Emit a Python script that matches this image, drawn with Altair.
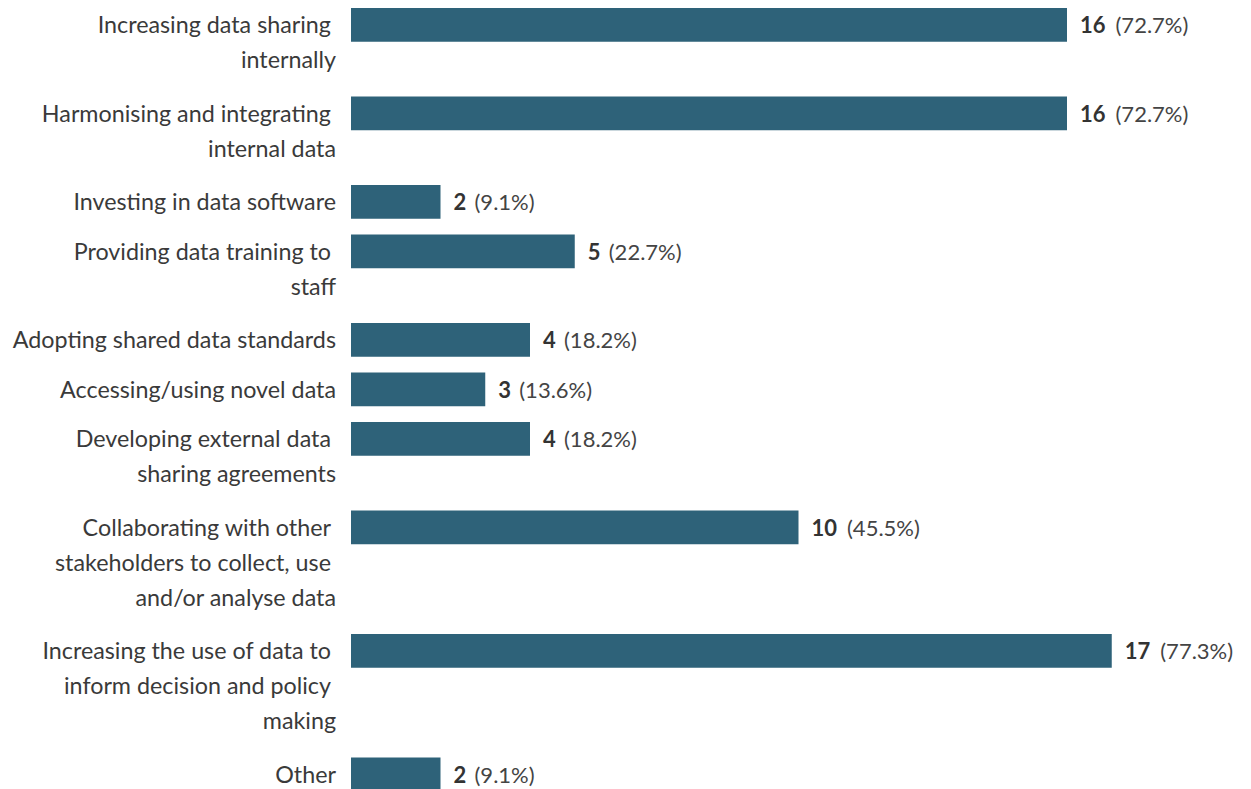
import altair as alt
import pandas as pd

# ---- data ----
label_lines = [
    ["Increasing data sharing", "internally"],
    ["Harmonising and integrating", "internal data"],
    ["Investing in data software"],
    ["Providing data training to", "staff"],
    ["Adopting shared data standards"],
    ["Accessing/using novel data"],
    ["Developing external data", "sharing agreements"],
    ["Collaborating with other", "stakeholders to collect, use", "and/or analyse data"],
    ["Increasing the use of data to", "inform decision and policy", "making"],
    ["Other"],
]
counts = [16, 16, 2, 5, 4, 3, 4, 10, 17, 2]
percents = [72.7, 72.7, 9.1, 22.7, 18.2, 13.6, 18.2, 45.5, 77.3, 9.1]

# ---- layout (row height depends on number of label lines) ----
ROW_H = {1: 49.5, 2: 88.5, 3: 123.5}
LINE_H = 35
BAR_H = 33.7
PX_PER_UNIT = 44.75
X_MAX = 17

tops = []
acc = 0
for lines in label_lines:
    tops.append(acc)
    acc += ROW_H[len(lines)]
H = tops[-1] + BAR_H + 0.3

df = pd.DataFrame({
    "category": [" ".join(l) for l in label_lines],
    "count": counts,
    "pct": [f"({p:.1f}%)" for p in percents],
    "top": tops,
})
df["bottom"] = df["top"] + BAR_H
df["digits"] = df["count"].astype(str).str.len()

# one row per wrapped label line (wrapped lines keep a trailing space,
# so they end a little left of the last line)
line_rows = []
for lines, top in zip(label_lines, tops):
    for i, txt in enumerate(lines):
        line_rows.append({"text": txt, "line_y": top + i * LINE_H,
                          "last": i == len(lines) - 1})
ldf = pd.DataFrame(line_rows)

FONT = "Lato"
FS = 22
LABEL_FS = 23.3
BASE_DY = 25

xs = alt.Scale(domain=[0, X_MAX], nice=False, zero=True)
ys = alt.Scale(domain=[0, H], reverse=True, nice=False, zero=False)

base = alt.Chart(df)

bars = base.mark_bar(color="#2e6279").encode(
    x=alt.X("count:Q", scale=xs, axis=None),
    x2=alt.datum(0),
    y=alt.Y("top:Q", scale=ys, axis=None),
    y2="bottom:Q",
)

lbase = alt.Chart(ldf)
label_last = lbase.transform_filter("datum.last").mark_text(
    align="right", baseline="alphabetic",
    font=FONT, fontSize=LABEL_FS, color="#3a3a3a", dx=-15, dy=BASE_DY,
).encode(
    x=alt.value(0),
    y=alt.Y("line_y:Q", scale=ys, axis=None),
    text="text:N",
)
label_wrapped = lbase.transform_filter("!datum.last").mark_text(
    align="right", baseline="alphabetic",
    font=FONT, fontSize=LABEL_FS, color="#3a3a3a", dx=-20, dy=BASE_DY,
).encode(
    x=alt.value(0),
    y=alt.Y("line_y:Q", scale=ys, axis=None),
    text="text:N",
)

count_txt = base.mark_text(
    align="left", baseline="alphabetic", font=FONT, fontSize=FS,
    fontWeight="bold", color="#333333", dx=13, dy=BASE_DY,
).encode(
    x=alt.X("count:Q", scale=xs, axis=None),
    y=alt.Y("top:Q", scale=ys, axis=None),
    text="count:Q",
)

pct1 = base.transform_filter("datum.digits == 1").mark_text(
    align="left", baseline="alphabetic", font=FONT, fontSize=FS,
    color="#444444", dx=34, dy=BASE_DY,
).encode(
    x=alt.X("count:Q", scale=xs, axis=None),
    y=alt.Y("top:Q", scale=ys, axis=None),
    text="pct:N",
)

pct2 = base.transform_filter("datum.digits == 2").mark_text(
    align="left", baseline="alphabetic", font=FONT, fontSize=FS,
    color="#444444", dx=48.5, dy=BASE_DY,
).encode(
    x=alt.X("count:Q", scale=xs, axis=None),
    y=alt.Y("top:Q", scale=ys, axis=None),
    text="pct:N",
)

chart = alt.layer(bars, label_last, label_wrapped, count_txt, pct1, pct2).properties(
    width=X_MAX * PX_PER_UNIT,
    height=H,
    autosize=alt.AutoSizeParams(type="none"),
    padding={"left": 343, "top": 0, "right": 130, "bottom": 0},
).configure_view(stroke=None)

chart.save("out.html", embed_options={"renderer": "svg", "actions": False})
